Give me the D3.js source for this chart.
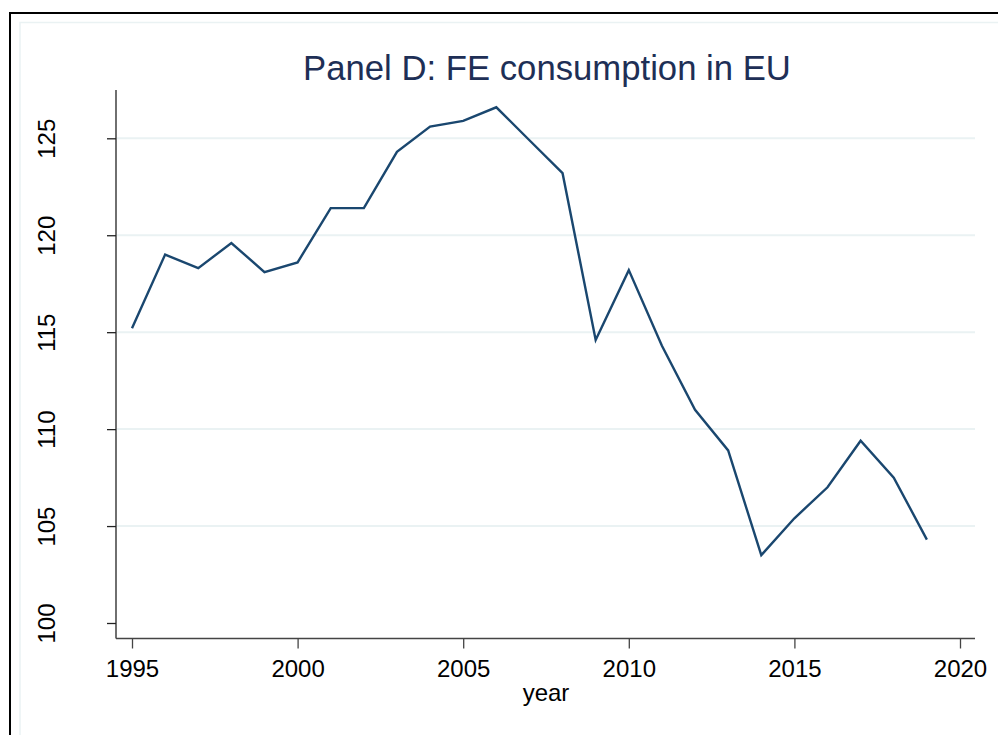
<!DOCTYPE html>
<html><head><meta charset="utf-8">
<script src="https://cdn.jsdelivr.net/npm/d3@7"></script>
<style>body{margin:0;background:#fff}svg{display:block}text{font-family:"Liberation Sans",Arial,sans-serif}</style>
</head><body>
<svg id="c" width="998" height="735"></svg>
<script>
const years = [1995,1996,1997,1998,1999,2000,2001,2002,2003,2004,2005,2006,2007,2008,2009,2010,2011,2012,2013,2014,2015,2016,2017,2018,2019];
const values = [115.2,119.0,118.3,119.6,118.1,118.6,121.4,121.4,124.3,125.6,125.9,126.6,124.9,123.2,114.6,118.2,114.3,111.0,108.9,103.5,105.4,107.0,109.4,107.5,104.3];
const xTicks = [1995,2000,2005,2010,2015,2020];
const yTicks = [100,105,110,115,120,125];
const gridTicks = [105,110,115,120,125];
const title = "Panel D: FE consumption in EU";
const xLabel = "year";

const svg = d3.select("#c");
// outer frame
svg.append("rect").attr("x",10).attr("y",13).attr("width",1000).attr("height",800)
  .attr("fill","none").attr("stroke","#000").attr("stroke-width",2);
svg.append("rect").attr("x",20).attr("y",22.5).attr("width",1000).attr("height",800)
  .attr("fill","none").attr("stroke","#eaf2f3").attr("stroke-width",1.5);

const x = d3.scaleLinear().domain([1995,2020]).range([132,960]);
const y = d3.scaleLinear().domain([100,125]).range([623,138.3]);

// gridlines
svg.append("g").selectAll("line").data(gridTicks).join("line")
  .attr("x1",117).attr("x2",975).attr("y1",d=>y(d)).attr("y2",d=>y(d))
  .attr("stroke","#eaf2f3").attr("stroke-width",2);

// y axis
const gy = svg.append("g").attr("transform","translate(116,0)")
  .call(d3.axisLeft(y).tickValues(yTicks).tickSize(9).tickPadding(0).tickFormat(d3.format("d")));
gy.select(".domain").attr("d","M0,90V638.5").attr("stroke","#222").attr("stroke-width",1.3);
gy.selectAll(".tick line").attr("stroke","#222").attr("stroke-width",1.3);
gy.selectAll(".tick text").attr("transform","rotate(-90)").attr("x",0).attr("y",-61)
  .attr("dy",0).attr("text-anchor","middle").attr("font-size",24).attr("fill","#000")
  .style("font-family",'"Liberation Sans",Arial,sans-serif');

// x axis
const gx = svg.append("g").attr("transform","translate(0,638.5)")
  .call(d3.axisBottom(x).tickValues(xTicks).tickSize(10).tickPadding(0).tickFormat(d3.format("d")));
gx.select(".domain").attr("d","M116,0H975").attr("stroke","#444").attr("stroke-width",1.3);
gx.selectAll(".tick line").attr("stroke","#444").attr("stroke-width",1.3);
gx.selectAll(".tick text").attr("y",38).attr("dy",0).attr("font-size",24).attr("fill","#000")
  .style("font-family",'"Liberation Sans",Arial,sans-serif');

// line
svg.append("path").datum(years.map((yr,i)=>[yr,values[i]]))
  .attr("d",d3.line().x(d=>x(d[0])).y(d=>y(d[1])))
  .attr("fill","none").attr("stroke","#1a476f").attr("stroke-width",2.4).attr("stroke-linejoin","miter");

// title
svg.append("text").attr("x",547).attr("y",80).attr("text-anchor","middle")
  .attr("font-size",34.7).attr("fill","#1e2f56").text(title);
// x label
svg.append("text").attr("x",546).attr("y",701).attr("text-anchor","middle")
  .attr("font-size",24).attr("fill","#000").text(xLabel);
</script>
</body></html>
